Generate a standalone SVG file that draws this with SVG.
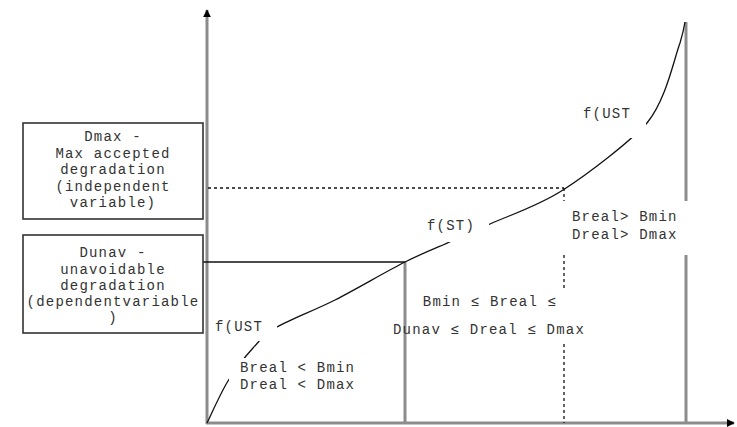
<svg xmlns="http://www.w3.org/2000/svg" width="737" height="427" viewBox="0 0 737 427">
<style>
text{font-family:"Liberation Mono","Courier New",monospace;font-size:14px;letter-spacing:1.2px;fill:#333}
.c{text-anchor:middle}
.axis{stroke:#8c8c8c;stroke-width:3;fill:none}
.box{fill:#fff;stroke:#333;stroke-width:1.6}
.thin{stroke:#111;stroke-width:1.3;fill:none}
.dash{stroke:#111;stroke-width:1.3;stroke-dasharray:3 3;fill:none}
.bg{fill:#fff}
</style>
<defs>
<marker id="ah" viewBox="0 0 10 10" refX="9" refY="5" markerWidth="8" markerHeight="8" markerUnits="userSpaceOnUse" orient="auto">
<path d="M0,0 L10,5 L0,10 z" fill="#000"/>
</marker>
</defs>
<rect width="737" height="427" fill="#fff"/>
<g id="axes">
<line class="axis" x1="207" y1="424" x2="207" y2="10" marker-end="url(#ah)"/>
<line class="axis" x1="206" y1="423" x2="734" y2="423" marker-end="url(#ah)"/>
<line class="axis" x1="405" y1="262" x2="405" y2="423"/>
<line class="axis" x1="686" y1="22" x2="686" y2="201"/>
<line class="axis" x1="686" y1="255" x2="686" y2="423"/>
</g>
<g id="connectors">
<line class="dash" x1="208" y1="188" x2="564" y2="188"/>
<line class="thin" x1="203" y1="262" x2="405" y2="262"/>
<line class="dash" x1="564" y1="188" x2="564" y2="201"/>
<line class="dash" x1="564" y1="255" x2="564" y2="289"/>
<line class="dash" x1="564" y1="344" x2="564" y2="423"/>
<path class="thin" d="M207,423 C210.5,416 220.3,393.5 228,381 C235.7,368.5 244.8,357 253,348 C261.2,339 263.3,335 277,327 C290.7,319 313.7,310.8 335,300 C356.3,289.2 385.5,271.8 405,262 C424.5,252.2 437.8,247.3 452,241 C466.2,234.7 471.5,232.5 490,224 C508.5,215.5 536.8,206.8 563,190 C589.2,173.2 629.7,141.8 647,123 C666.5,98.5 673.7,59.8 680,43 C683,33 684,28 685,22"/>
</g>
<g id="curve-labels">
<rect class="bg" x="212" y="316" width="65" height="25"/>
<text x="215" y="331">f(UST</text>
<rect class="bg" x="424" y="214" width="65" height="28"/>
<text x="427" y="230">f(ST)</text>
<rect class="bg" x="580" y="102" width="66" height="36"/>
<text x="583" y="118">f(UST</text>
</g>
<g id="box-dmax">
<rect class="box" x="23" y="123" width="180" height="96"/>
<text class="c" x="113" y="141">Dmax -</text>
<text class="c" x="113" y="157.5">Max accepted</text>
<text class="c" x="113" y="174">degradation</text>
<text class="c" x="113" y="190.5">(independent</text>
<text class="c" x="113" y="207">variable)</text>
</g>
<g id="box-dunav">
<rect class="box" x="23" y="235" width="180" height="98"/>
<text class="c" x="113" y="257">Dunav -</text>
<text class="c" x="113" y="273.5">unavoidable</text>
<text class="c" x="113" y="290">degradation</text>
<text class="c" x="113" y="306">(dependentvariable</text>
<text class="c" x="113" y="322">)</text>
</g>
<g id="region-low">
<rect class="bg" x="229" y="358" width="140" height="36"/>
<text x="240" y="372">Breal &lt; Bmin</text>
<text x="240" y="389">Dreal &lt; Dmax</text>
</g>
<g id="region-mid">
<text class="c" x="490" y="306">Bmin ≤ Breal ≤</text>
<text class="c" x="489" y="334">Dunav ≤ Dreal ≤ Dmax</text>
</g>
<g id="region-high">
<text x="572" y="221">Breal&gt; Bmin</text>
<text x="572" y="239">Dreal&gt; Dmax</text>
</g>
</svg>
